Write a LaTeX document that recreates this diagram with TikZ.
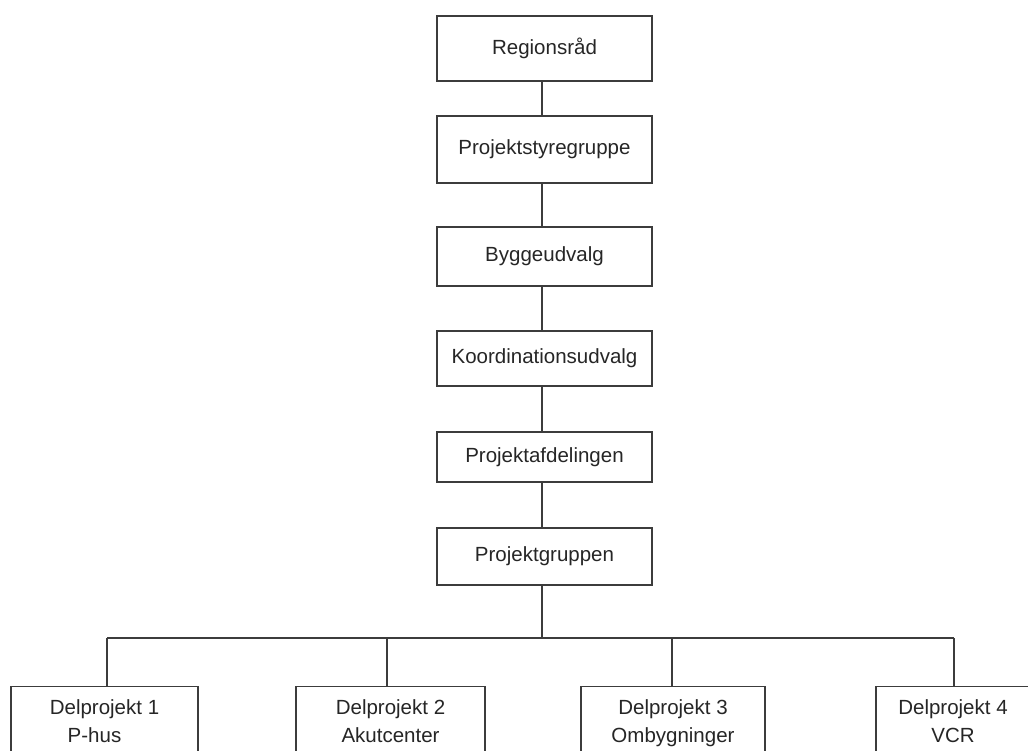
\documentclass[tikz,border=0pt]{standalone}
\usepackage{fontspec}
\setmainfont{Liberation Sans}
\definecolor{linec}{HTML}{3C3C3C}
\definecolor{textc}{HTML}{262626}
\newcommand{\topstrut}{\rule{0pt}{28pt}}
\newcommand{\botstrut}{\rule[-30pt]{0pt}{30pt}}
\begin{document}
\begin{tikzpicture}[x=1pt,y=-1pt,
  orgbox/.style={draw=linec,line width=1.2pt,fill=white,inner sep=0pt,
    minimum width=215pt,text=textc,font=\fontsize{20.5}{28}\selectfont},
  subbox/.style={draw=linec,line width=1.2pt,fill=white,inner xsep=0pt,inner ysep=0pt,anchor=north,
    text=textc,align=center,font=\fontsize{20.5}{28}\selectfont},
  conn/.style={draw=linec,line width=1.2pt}]
\useasboundingbox (0,0) rectangle (1028,751);
\clip (0,0) rectangle (1028,751);
\fill[white] (0,0) rectangle (1028,751);
\coordinate (trunk) at (542,0);
% top chain
\node[orgbox,minimum height=65pt] (n1) at (544.5,48.5) {Regionsråd};
\node[orgbox,minimum height=67pt] (n2) at (544.5,149.5) {Projektstyregruppe};
\node[orgbox,minimum height=59pt] (n3) at (544.5,256.5) {Byggeudvalg};
\node[orgbox,minimum height=55pt] (n4) at (544.5,358.5) {Koordinationsudvalg};
\node[orgbox,minimum height=50pt] (n5) at (544.5,457) {Projektafdelingen};
\node[orgbox,minimum height=57pt] (n6) at (544.5,556.5) {Projektgruppen};
\foreach \a/\b in {n1/n2,n2/n3,n3/n4,n4/n5,n5/n6}
  \draw[conn] (\a.south -| trunk) -- (\b.north -| trunk);
% bottom boxes
\node[subbox,minimum width=187pt] (d1) at (104.5,686) {\topstrut Delprojekt 1\\P-hus\hspace*{20pt}\botstrut};
\node[subbox,minimum width=189pt] (d2) at (390.5,686) {\topstrut Delprojekt 2\\Akutcenter\botstrut};
\node[subbox,minimum width=184pt] (d3) at (673,686) {\topstrut Delprojekt 3\\Ombygninger\botstrut};
\node[subbox,minimum width=154pt] (d4) at (953,686) {\topstrut Delprojekt 4\\VCR\botstrut};
\coordinate (bus) at (0,638);
\coordinate (x1) at (107,0);
\coordinate (x2) at (387,0);
\coordinate (x3) at (672,0);
\coordinate (x4) at (954,0);
\draw[conn] (n6.south -| trunk) -- (bus -| trunk);
\draw[conn] (bus -| x1) -- (bus -| x4);
\foreach \i in {1,2,3,4}
  \draw[conn] (bus -| x\i) -- (d\i.north -| x\i);
\end{tikzpicture}
\end{document}
